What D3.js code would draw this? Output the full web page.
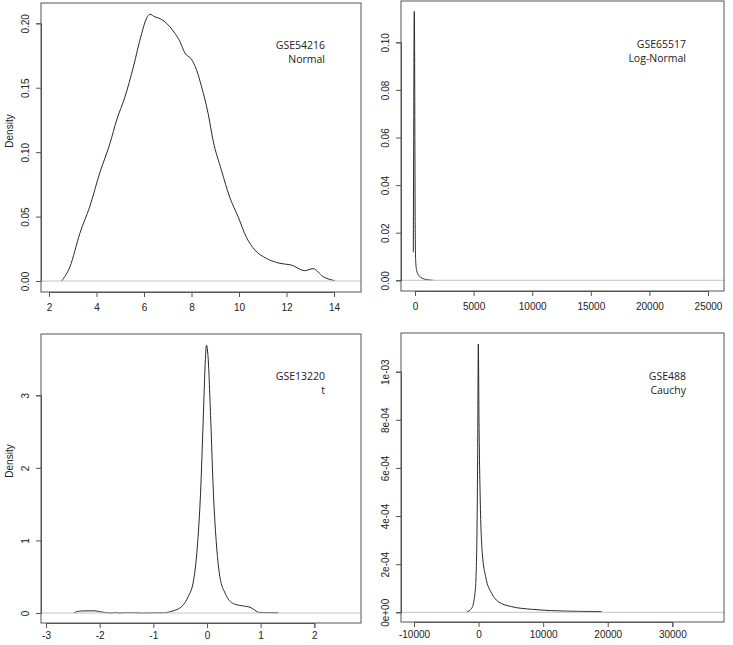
<!doctype html>
<html>
  <head>
    <meta charset="utf-8">
    <script src="https://cdnjs.cloudflare.com/ajax/libs/d3/7.8.5/d3.min.js"></script>
    <style>
      body { margin: 0; background: #fff; }
      text { font-family: "Liberation Sans", Arial, sans-serif; fill: #222; }
      .note { font-family: "Open Sans", "Noto Sans", sans-serif; font-size: 10.5px; }
    </style>
  </head>
  <body>
    <svg width="733" height="645"></svg>
    <script>
      // GSE54216 - Normal
      var normX = [2.53, 2.88, 3.30, 3.72, 4.14, 4.57, 4.85, 5.20, 5.55, 5.90, 6.11, 6.25, 6.46, 6.74, 6.95, 7.23, 7.51, 7.72, 8.00, 8.21, 8.42, 8.70, 8.91, 9.26, 9.61, 9.96, 10.31, 10.67, 11.15, 11.72, 12.2, 12.77, 13.12, 13.54, 14.03];
      var normY = [0, 0.011, 0.037, 0.058, 0.084, 0.107, 0.125, 0.143, 0.166, 0.192, 0.204, 0.207, 0.205, 0.203, 0.200, 0.194, 0.186, 0.177, 0.172, 0.164, 0.151, 0.130, 0.109, 0.086, 0.065, 0.050, 0.034, 0.024, 0.0176, 0.0137, 0.0124, 0.0080, 0.0096, 0.0034, 0.0003];
      var normXTicks = [2, 4, 6, 8, 10, 12, 14];
      var normYTicks = [0, 0.05, 0.10, 0.15, 0.20];
      var normYLabels = ["0.00", "0.05", "0.10", "0.15", "0.20"];

      // GSE65517 - Log-Normal
      var lnX = [-145, -110, -80, -60, -40, -10, 20, 60, 150, 300, 500, 800, 1100, 1550];
      var lnY = [0.0118, 0.06, 0.105, 0.113, 0.105, 0.06, 0.02, 0.008, 0.004, 0.0022, 0.0012, 0.0005, 0.0002, 0.00003];
      var lnXTicks = [0, 5000, 10000, 15000, 20000, 25000];
      var lnYTicks = [0, 0.02, 0.04, 0.06, 0.08, 0.10];
      var lnYLabels = ["0.00", "0.02", "0.04", "0.06", "0.08", "0.10"];

      // GSE13220 - t
      var tX = [-2.48, -2.34, -2.09, -2.0, -1.87, -1.78, -1.71, -1.64, -1.50, -1.40, -1.2, -0.81, -0.63, -0.47, -0.35, -0.25, -0.18, -0.12, -0.07, -0.03, -0.01, 0.02, 0.07, 0.12, 0.18, 0.24, 0.34, 0.49, 0.68, 0.80, 0.87, 0.96, 1.1, 1.33];
      var tY = [0.005, 0.028, 0.03, 0.018, 0.004, 0, 0.008, 0, 0.005, 0.004, 0, 0.004, 0.03, 0.09, 0.225, 0.45, 0.91, 1.65, 2.66, 3.49, 3.69, 3.53, 2.66, 1.65, 0.91, 0.50, 0.27, 0.13, 0.096, 0.08, 0.05, 0.01, 0.005, 0.004];
      var tXTicks = [-3, -2, -1, 0, 1, 2];
      var tYTicks = [0, 1, 2, 3];
      var tYLabels = ["0", "1", "2", "3"];

      // GSE488 - Cauchy
      var cX = [-1840, -1065, -555, -297, -142, -39, 65, 271, 581, 1097, 2026, 3058, 5123, 8220, 11316, 15445, 19058];
      var cY = [0.0000014, 0.000017, 0.000079, 0.000245, 0.00066, 0.001115, 0.0008, 0.00045, 0.000245, 0.000148, 0.000079, 0.000044, 0.0000235, 0.0000125, 0.000007, 0.000004, 0.0000028];
      var cXTicks = [-10000, 0, 10000, 20000, 30000];
      var cYTicks = [0, 0.0002, 0.0004, 0.0006, 0.0008, 0.001];
      var cYLabels = ["0e+00", "2e-04", "4e-04", "6e-04", "8e-04", "1e-03"];

      var panels = [
        {xs: normX, ys: normY, xt: normXTicks, yt: normYTicks, yl: normYLabels, name: "GSE54216", dist: "Normal",
         box: [41, 3, 361, 292], xr: [49, 334], yr: [281, 23.3], ylab: true, yLabY: 131, note: [325, 49], pad: 7},
        {xs: lnX, ys: lnY, xt: lnXTicks, yt: lnYTicks, yl: lnYLabels, name: "GSE65517", dist: "Log-Normal",
         box: [401, 1, 724, 291], xr: [415, 708], yr: [280.3, 42.3], ylab: false, note: [686, 48], pad: 7},
        {xs: tX, ys: tY, xt: tXTicks, yt: tYTicks, yl: tYLabels, name: "GSE13220", dist: "t",
         box: [41, 334, 361, 623], xr: [46, 314.3], yr: [613, 395.3], ylab: true, yLabY: 461, note: [325, 380], pad: 4},
        {xs: cX, ys: cY, xt: cXTicks, yt: cYTicks, yl: cYLabels, name: "GSE488", dist: "Cauchy",
         box: [401, 333, 724, 622], xr: [414, 672.3], yr: [612.3, 371.7], ylab: false, note: [686, 380], pad: 4}
      ];

      var svg = d3.select("svg");

      panels.forEach(function(p) {
        var x = d3.scaleLinear().domain([p.xt[0], p.xt[p.xt.length - 1]]).range(p.xr);
        var y = d3.scaleLinear().domain([p.yt[0], p.yt[p.yt.length - 1]]).range(p.yr);
        var b = p.box;
        var g = svg.append("g");

        var pts = p.xs.map((v, i) => [v, p.ys[i]]);
        g.append("path")
          .datum(pts)
          .attr("fill", "none")
          .attr("stroke", "#2a2a2a")
          .attr("stroke-width", 1)
          .attr("d", d3.line().x(d => x(d[0])).y(d => y(d[1])).curve(d3.curveMonotoneX));

        // zero line drawn over the curve, as R does
        g.append("line")
          .attr("x1", b[0]).attr("x2", b[2])
          .attr("y1", y(0)).attr("y2", y(0))
          .attr("stroke", "#c4c4c4")
          .attr("stroke-width", 1);

        g.append("rect")
          .attr("x", b[0]).attr("y", b[1])
          .attr("width", b[2] - b[0]).attr("height", b[3] - b[1])
          .attr("fill", "none")
          .attr("stroke", "#555")
          .attr("stroke-width", 1);

        var xa = g.append("g")
          .attr("transform", "translate(0," + b[3] + ")")
          .call(d3.axisBottom(x).tickValues(p.xt).tickSize(5).tickPadding(p.pad).tickFormat(d => String(d)));
        xa.select(".domain").attr("stroke", "#555");
        xa.selectAll(".tick line").attr("stroke", "#555");
        xa.selectAll("text").style("font-size", "10px").attr("fill", "#222");

        var ya = g.append("g")
          .attr("transform", "translate(" + b[0] + ",0)")
          .call(d3.axisLeft(y).tickValues(p.yt).tickSize(5).tickFormat((d, i) => p.yl[i]));
        ya.select(".domain").attr("stroke", "#555");
        ya.selectAll(".tick line").attr("stroke", "#555");
        ya.selectAll("text")
          .style("font-size", "10px")
          .attr("fill", "#222")
          .attr("x", null).attr("dy", null)
          .attr("text-anchor", "middle")
          .attr("transform", "translate(-12,0) rotate(-90)");

        if (p.ylab) {
          g.append("text")
            .attr("transform", "translate(13," + p.yLabY + ") rotate(-90)")
            .attr("text-anchor", "middle")
            .style("font-size", "10px")
            .text("Density");
        }

        g.append("text").attr("class", "note")
          .attr("x", p.note[0]).attr("y", p.note[1])
          .attr("text-anchor", "end").text(p.name);
        g.append("text").attr("class", "note")
          .attr("x", p.note[0]).attr("y", p.note[1] + 14)
          .attr("text-anchor", "end").text(p.dist);
      });
    </script>
  </body>
</html>
